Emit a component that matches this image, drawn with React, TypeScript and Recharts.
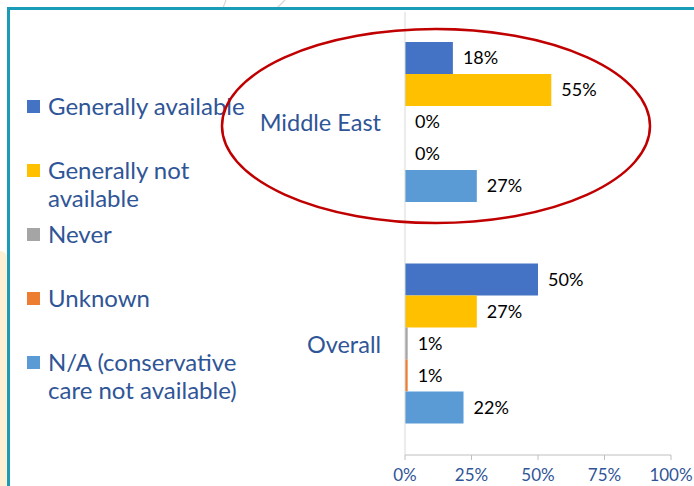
import React from 'react';
import { BarChart, Bar, XAxis, YAxis, LabelList } from 'recharts';

const categories = ['Middle East', 'Overall'];
const seriesKeys = ['ga', 'gna', 'never', 'unknown', 'na'];
const seriesNames = [
  'Generally available',
  'Generally not\navailable',
  'Never',
  'Unknown',
  'N/A (conservative\ncare not available)',
];
const seriesColors = ['#4472C4', '#FFC000', '#A5A5A5', '#ED7D31', '#5B9BD5'];
const gaValues = [18, 50];
const gnaValues = [55, 27];
const neverValues = [0, 1];
const unknownValues = [0, 1];
const naValues = [27, 22];
const xTicks = [0, 25, 50, 75, 100];

const seriesValues = [gaValues, gnaValues, neverValues, unknownValues, naValues];

const data = categories.map((c, i) => {
  const row: any = { name: c };
  seriesKeys.forEach((k, s) => {
    row[k] = seriesValues[s][i];
  });
  return row;
});

const FONT = 'Lato, "Open Sans", sans-serif';
const BLUE_TEXT = '#2F5597';

export default function App() {
  return (
    <div
      style={{
        position: 'absolute',
        left: 0,
        top: 0,
        width: 694,
        height: 486,
        background: '#fff',
        overflow: 'hidden',
        fontFamily: FONT,
      }}
    >
      {/* slide decorations */}
      <svg width={694} height={486} style={{ position: 'absolute', left: 0, top: 0 }}>
        <line x1={226} y1={0} x2={223} y2={8} stroke="#D6D6D6" strokeWidth={1.2} />
        <line x1={285} y1={0} x2={277} y2={8} stroke="#D6D6D6" strokeWidth={1.2} />
        <path d="M0,251 L2,251 Q7,253 7,258 L7,486 L0,486 Z" fill="#FEF0D3" />
        <rect x={7} y={7} width={687} height={3} fill="#1A9BB8" />
        <rect x={7} y={7} width={3} height={479} fill="#1A9BB8" />
      </svg>

      <div style={{ position: 'absolute', left: 0, top: 0 }}>
        <BarChart
          width={694}
          height={486}
          data={data}
          layout="vertical"
          margin={{ top: 12, right: 23, bottom: 0, left: 0 }}
          barCategoryGap="13.5%"
          barGap={0}
        >
          <XAxis
            type="number"
            domain={[0, 100]}
            ticks={xTicks}
            tickFormatter={(v) => `${v}%`}
            height={31}
            axisLine={{ stroke: '#BFBFBF' }}
            tickLine={{ stroke: '#BFBFBF' }}
            tickSize={5}
            tickMargin={9}
            tick={{ fill: BLUE_TEXT, fontSize: 17, fontFamily: FONT }}
            interval={0}
          />
          <YAxis
            type="category"
            dataKey="name"
            width={405}
            axisLine={{ stroke: '#D9D9D9' }}
            tickLine={false}
            tickSize={0}
            tickMargin={24}
            tick={{ fill: BLUE_TEXT, fontSize: 23.5, fontFamily: FONT }}
          />
          {seriesKeys.map((k, i) => (
            <Bar
              key={k}
              dataKey={k}
              fill={seriesColors[i]}
              minPointSize={0.01}
              isAnimationActive={false}
            >
              <LabelList
                dataKey={k}
                position="right"
                offset={10}
                formatter={(v: any) => `${v}%`}
                style={{ fill: '#000', fontSize: 18, fontFamily: FONT }}
              />
            </Bar>
          ))}
        </BarChart>
      </div>

      {/* legend */}
      {seriesNames.map((n, i) => (
        <div
          key={n}
          style={{
            position: 'absolute',
            left: 27,
            top: 92 + i * 64,
            display: 'flex',
            alignItems: 'flex-start',
          }}
        >
          <div
            style={{
              width: 13,
              height: 13,
              marginTop: 8,
              marginRight: 8,
              background: seriesColors[i],
            }}
          />
          <div
            style={{
              whiteSpace: 'pre-line',
              color: BLUE_TEXT,
              fontSize: 24,
              lineHeight: '28px',
            }}
          >
            {n}
          </div>
        </div>
      ))}

      {/* annotation ellipse */}
      <svg width={694} height={486} style={{ position: 'absolute', left: 0, top: 0, pointerEvents: 'none' }}>
        <ellipse cx={436} cy={126} rx={214} ry={97} fill="none" stroke="#C00000" strokeWidth={2.5} />
      </svg>
    </div>
  );
}
